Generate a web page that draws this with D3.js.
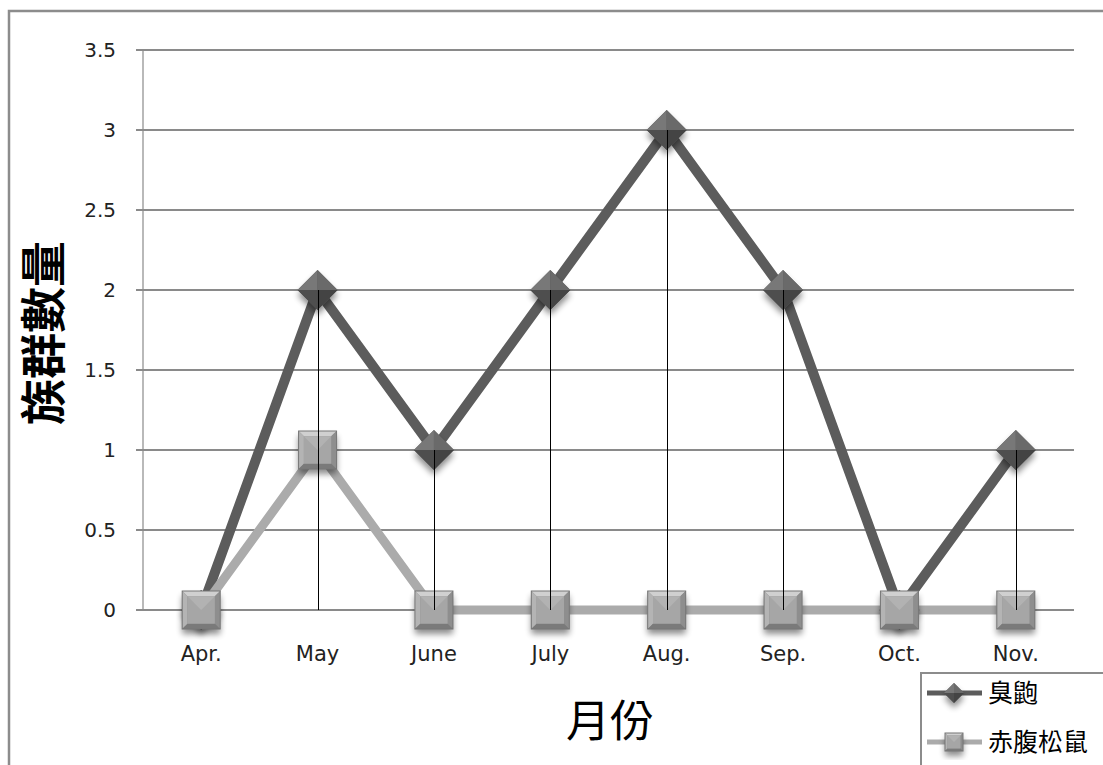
<!DOCTYPE html>
<html><head><meta charset="utf-8">
<script src="https://cdn.jsdelivr.net/npm/d3@7"></script>
<style>html,body{margin:0;padding:0;background:#fff;overflow:hidden}</style>
</head><body>
<svg id="c" width="1103" height="765"></svg>
<script>
const months = ["Apr.","May","June","July","Aug.","Sep.","Oct.","Nov."];
const shrew = [0,2,1,2,3,2,0,1];        // 臭鼩
const squirrel = [0,1,0,0,0,0,0,0];     // 赤腹松鼠
const yTicks = [0,0.5,1,1.5,2,2.5,3,3.5];
const seriesNames = ["臭鼩","赤腹松鼠"];

const svg = d3.select("#c");
const defs = svg.append("defs");
const f = defs.append("filter").attr("id","sh").attr("x","-50%").attr("y","-50%").attr("width","200%").attr("height","200%");
f.append("feGaussianBlur").attr("in","SourceAlpha").attr("stdDeviation",3).attr("result","b");
f.append("feOffset").attr("in","b").attr("dy",5).attr("result","o");
f.append("feComponentTransfer").attr("in","o").attr("result","o2").append("feFuncA").attr("type","linear").attr("slope",0.45);
const m = f.append("feMerge"); m.append("feMergeNode").attr("in","o2"); m.append("feMergeNode").attr("in","SourceGraphic");

// outer frame
svg.append("rect").attr("x",9).attr("y",11).attr("width",1110).attr("height",780)
  .attr("fill","none").attr("stroke","#8c8c8c").attr("stroke-width",2.5);

const x = d3.scaleBand().domain(months).range([143,1074]);
const y = d3.scaleLinear().domain([0,3.5]).range([610,50]);
const cx = d => x(d) + x.bandwidth()/2;

// gridlines
svg.append("g").selectAll("line").data(yTicks).join("line")
  .attr("x1",136).attr("x2",1074).attr("y1",d=>y(d)).attr("y2",d=>y(d))
  .attr("stroke","#8a8a8a").attr("stroke-width",1.2).attr("shape-rendering","crispEdges");
// y axis
const ya = svg.append("g").attr("transform","translate(143,0)")
  .call(d3.axisLeft(y).tickValues(yTicks).tickSize(7).tickPadding(20).tickFormat(d=>String(d)));
ya.select(".domain").attr("stroke","#8a8a8a").attr("stroke-width",1.2).attr("d","M0,50V610");
ya.selectAll(".tick line").attr("stroke","#8a8a8a");
ya.selectAll("text").attr("font-family","DejaVu Sans").attr("font-size",20).attr("fill","#222");

// x axis labels
const xa = svg.append("g").attr("transform","translate(0,610)")
  .call(d3.axisBottom(x).tickSize(0).tickPadding(36));
xa.select(".domain").remove();
xa.selectAll("text").attr("font-family","DejaVu Sans").attr("font-size",21).attr("fill","#222");

// titles
svg.append("text").attr("transform","translate(60,333) rotate(-90)").attr("text-anchor","middle")
  .attr("font-family","Noto Sans CJK TC").attr("font-weight",700).attr("font-size",46).attr("fill","#000").text("族群數量");
svg.append("text").attr("x",610).attr("y",737).attr("text-anchor","middle")
  .attr("font-family","Noto Sans CJK TC").attr("font-weight",400).attr("font-size",44).attr("fill","#000").text("月份");

const line = d3.line().x((d,i)=>cx(months[i])).y(d=>y(d));
svg.append("path").datum(shrew).attr("d",line).attr("fill","none").attr("stroke","#5c5c5c").attr("stroke-width",10).attr("stroke-linejoin","miter");
svg.append("path").datum(squirrel).attr("d",line).attr("fill","none").attr("stroke","#ababab").attr("stroke-width",9);

function diamond(g, s){
  g.append("path").attr("d",`M0,${-s}L${s},0L0,${s}L${-s},0Z`).attr("fill","#555").attr("filter","url(#sh)");
  g.append("path").attr("d",`M0,${-s}L${-s},0L0,0Z`).attr("fill","#787878");
  g.append("path").attr("d",`M0,${-s}L${s},0L0,0Z`).attr("fill","#6a6a6a");
  g.append("path").attr("d",`M${-s},0L0,${s}L0,0Z`).attr("fill","#4e4e4e");
  g.append("path").attr("d",`M${s},0L0,${s}L0,0Z`).attr("fill","#444");
}
function square(g, s){
  const b = s*0.28, i = s-b;
  g.append("rect").attr("x",-s).attr("y",-s).attr("width",2*s).attr("height",2*s).attr("fill","#8c8c8c").attr("filter","url(#sh)");
  g.append("path").attr("d",`M${-s},${-s}L${s},${-s}L${i},${-i}L${-i},${-i}Z`).attr("fill","#d0d0d0");
  g.append("path").attr("d",`M${-s},${-s}L${-i},${-i}L${-i},${i}L${-s},${s}Z`).attr("fill","#b4b4b4");
  g.append("path").attr("d",`M${s},${-s}L${s},${s}L${i},${i}L${i},${-i}Z`).attr("fill","#8e8e8e");
  g.append("path").attr("d",`M${-s},${s}L${s},${s}L${i},${i}L${-i},${i}Z`).attr("fill","#7a7a7a");
  g.append("rect").attr("x",-i).attr("y",-i).attr("width",2*i).attr("height",2*i).attr("fill","#a6a6a6");
  g.append("path").attr("d",`M${-i},${-i}L${i},${-i}L0,0Z`).attr("fill","#b2b2b2");
  g.append("rect").attr("x",-s).attr("y",-s).attr("width",2*s).attr("height",2*s).attr("fill","none").attr("stroke","#777").attr("stroke-width",1);
}

svg.append("g").selectAll("g").data(shrew).join("g")
  .attr("transform",(d,i)=>`translate(${cx(months[i])},${y(d)})`).each(function(){diamond(d3.select(this),20);});
svg.append("g").selectAll("g").data(squirrel).join("g")
  .attr("transform",(d,i)=>`translate(${cx(months[i])},${y(d)})`).each(function(){square(d3.select(this),19);});

// drop lines
svg.append("g").selectAll("line").data(shrew).join("line")
  .attr("x1",(d,i)=>Math.round(cx(months[i]))+0.5).attr("x2",(d,i)=>Math.round(cx(months[i]))+0.5)
  .attr("y1",d=>y(d)).attr("y2",y(0)).attr("stroke","#000").attr("stroke-width",1);

// legend
const lg = svg.append("g");
lg.append("rect").attr("x",921).attr("y",673).attr("width",200).attr("height",120).attr("fill","#fff").attr("stroke","#8c8c8c").attr("stroke-width",2);
const ly = [693,742];
lg.append("line").attr("x1",927).attr("x2",982).attr("y1",ly[0]).attr("y2",ly[0]).attr("stroke","#5c5c5c").attr("stroke-width",5);
diamond(lg.append("g").attr("transform",`translate(954,${ly[0]})`),10);
lg.append("line").attr("x1",927).attr("x2",982).attr("y1",ly[1]).attr("y2",ly[1]).attr("stroke","#ababab").attr("stroke-width",5);
square(lg.append("g").attr("transform",`translate(954,${ly[1]})`),9);
lg.selectAll("text.l").data(seriesNames).join("text").attr("class","l")
  .attr("x",988).attr("y",(d,i)=>ly[i]+9).attr("font-family","Noto Sans CJK TC").attr("font-size",25).attr("fill","#000").text(d=>d);
</script>
</body></html>
